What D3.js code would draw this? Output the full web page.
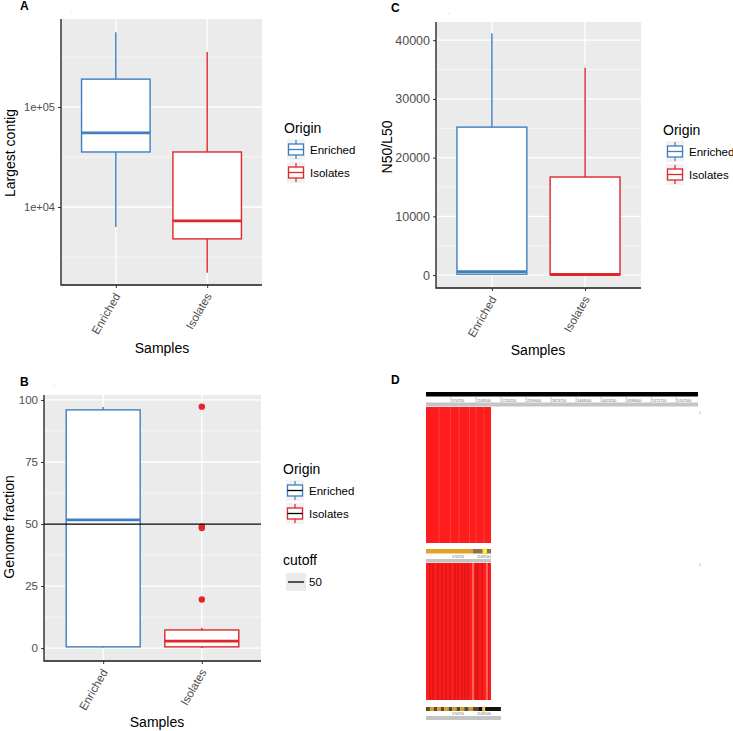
<!DOCTYPE html>
<meta charset="utf-8">
<title>Assembly comparison</title>
<style>
body { margin: 0; background: #fff; font-family: "Liberation Sans", Arial, sans-serif; }
.tick text { fill: #4d4d4d; }
.tick line { stroke: #333; }
</style>
<body>
<script src="https://d3js.org/d3.v7.min.js"></script>
<script>

// categories and colours
var samples = ["Enriched", "Isolates"];
var sampleColors = ["#3f7fbf", "#e0262a"];

// box stats: [lower whisker, Q1, median, Q3, upper whisker]
var contigEnriched = [6300, 35500, 55000, 190000, 560000];
var contigIsolates = [2200, 4800, 7250, 35500, 355000];
var contigTicks = [1e4, 1e5];
var contigMinor = [Math.pow(10, 3.5), Math.pow(10, 4.5), Math.pow(10, 5.5)];

var n50Enriched = [0, 150, 600, 25200, 41200];
var n50Isolates = [0, 20, 100, 16700, 35300];
var n50Ticks = [0, 10000, 20000, 30000, 40000];
var n50Minor = [5000, 15000, 25000, 35000];

var fractionEnriched = [0.2, 0.5, 51.7, 96, 97.2];
var fractionIsolates = [0, 0.5, 2.8, 7.3, 8.2];
var fractionOutliers = [97.3, 48.9, 48.4, 19.6];
var fractionTicks = [0, 25, 50, 75, 100];
var fractionMinor = [12.5, 37.5, 62.5, 87.5];
var cutoff = 50;

// panel D: genome alignment tracks (positions in kb)
var genomeLength = 6250;
var refTicks = [575, 1150, 1725, 2300, 2875, 3450, 4025, 4600, 5175, 5750];
var refTickLabels = ["574750", "1149500", "1724250", "2299000", "2873750", "3448500", "4023250", "4598000", "5172750", "5747500"];
var alignedEnd = 1494;
var lightLines1 = [300, 560, 760, 1000, 1150, 1330];
var darkLines2 = [92, 161, 276, 368, 460, 551, 666, 735, 827, 896, 965, 1150, 1195, 1287, 1425];
var whiteLines2 = [1080, 1402];
var midTicks = [575, 1150];
var bottomBounds = [0, 90, 180, 260, 340, 420, 520, 600, 700, 790, 880, 980, 1080, 1200, 1720];
var bottomTicks = [575, 1150];

var svg = d3.select("body").append("svg")
    .attr("width", 733)
    .attr("height", 731);

function drawBoxPanel(p) {
    var g = svg.append("g");
    var x = d3.scalePoint().domain(samples).range([p.x0, p.x1]).padding(0.6);
    var y = p.y;

    g.append("rect")
        .attr("x", p.x0).attr("y", p.y0)
        .attr("width", p.x1 - p.x0).attr("height", p.y1 - p.y0)
        .attr("fill", "#ebebeb");

    g.selectAll(".minor").data(p.minor).enter().append("line")
        .attr("x1", p.x0).attr("x2", p.x1)
        .attr("y1", function(d) { return y(d); })
        .attr("y2", function(d) { return y(d); })
        .attr("stroke", "#fff").attr("stroke-width", 0.6);
    g.selectAll(".major").data(p.ticks).enter().append("line")
        .attr("x1", p.x0).attr("x2", p.x1)
        .attr("y1", function(d) { return y(d); })
        .attr("y2", function(d) { return y(d); })
        .attr("stroke", "#fff").attr("stroke-width", 1.3);
    g.selectAll(".vgrid").data(samples).enter().append("line")
        .attr("x1", function(d) { return x(d); })
        .attr("x2", function(d) { return x(d); })
        .attr("y1", p.y0).attr("y2", p.y1)
        .attr("stroke", "#fff").attr("stroke-width", 1.3);

    var bw = x.step() * 0.75;
    p.stats.forEach(function(s, i) {
        var cx = x(samples[i]), c = sampleColors[i];
        g.append("line").attr("x1", cx).attr("x2", cx)
            .attr("y1", y(s[4])).attr("y2", y(s[3]))
            .attr("stroke", c).attr("stroke-width", 1.4);
        g.append("line").attr("x1", cx).attr("x2", cx)
            .attr("y1", y(s[1])).attr("y2", y(s[0]))
            .attr("stroke", c).attr("stroke-width", 1.4);
        g.append("rect")
            .attr("x", cx - bw / 2).attr("width", bw)
            .attr("y", y(s[3])).attr("height", y(s[1]) - y(s[3]))
            .attr("fill", "#fff").attr("stroke", c).attr("stroke-width", 1.4);
        g.append("line").attr("x1", cx - bw / 2).attr("x2", cx + bw / 2)
            .attr("y1", y(s[2])).attr("y2", y(s[2]))
            .attr("stroke", c).attr("stroke-width", 2.8);
    });

    if (p.outliers) {
        g.selectAll(".out").data(p.outliers).enter().append("circle")
            .attr("cx", x(samples[1]))
            .attr("cy", function(d) { return y(d); })
            .attr("r", 3.2)
            .attr("fill", sampleColors[1]);
    }
    if (p.hline != null) {
        g.append("line").attr("x1", p.x0).attr("x2", p.x1)
            .attr("y1", y(p.hline)).attr("y2", y(p.hline))
            .attr("stroke", "#000").attr("stroke-width", 1.3);
    }

    // axes
    var ya = g.append("g")
        .attr("transform", "translate(" + p.x0 + ",0)")
        .call(d3.axisLeft(y).tickValues(p.ticks).tickSize(3).tickPadding(3).tickFormat(p.format));
    ya.select(".domain").remove();
    ya.selectAll("text").style("font-size", p.tickSize + "px").style("font-family", "Liberation Sans, Arial, sans-serif");

    var xa = g.append("g")
        .attr("transform", "translate(0," + p.y1 + ")")
        .call(d3.axisBottom(x).tickSize(3));
    xa.select(".domain").remove();
    xa.selectAll("text")
        .attr("x", 0).attr("y", 0).attr("dy", "0.35em")
        .attr("text-anchor", "end")
        .attr("transform", "translate(1,9) rotate(-60)")
        .style("font-size", "11.5px").style("font-family", "Liberation Sans, Arial, sans-serif");

    g.append("path")
        .attr("d", "M" + p.x0 + "," + p.y0 + "V" + p.y1 + "H" + p.x1)
        .attr("fill", "none").attr("stroke", "#1a1a1a").attr("stroke-width", 1.3);

    // titles
    g.append("text")
        .attr("transform", "translate(" + p.ytx + "," + p.yty + ") rotate(-90)")
        .attr("text-anchor", "middle").attr("dy", "0.35em")
        .style("font-size", "14px").text(p.ytitle);
    g.append("text")
        .attr("x", p.xtx).attr("y", p.xty)
        .attr("text-anchor", "middle").attr("dy", "0.35em")
        .style("font-size", "14px").text("Samples");
    g.append("text")
        .attr("x", p.lx).attr("y", p.ly)
        .style("font-size", "12px").style("font-weight", "bold").text(p.label);
    g.append("text")
        .attr("x", p.dotx).attr("y", p.doty)
        .style("font-size", "6px").attr("fill", "#777").text(".");

    // legend
    var lg = g.append("g").attr("transform", "translate(" + p.legx + "," + p.legy + ")");
    lg.append("text").attr("x", -3).attr("y", 0).attr("dy", "0.35em")
        .style("font-size", "14px").text("Origin");
    samples.forEach(function(s, i) {
        var ky = 11 + i * 23;
        var c = sampleColors[i];
        lg.append("rect").attr("x", 0).attr("y", ky).attr("width", 18).attr("height", 21)
            .attr("fill", "#f2f2f2");
        lg.append("line").attr("x1", 9).attr("x2", 9).attr("y1", ky + 1).attr("y2", ky + 20)
            .attr("stroke", c).attr("stroke-width", 1.2);
        lg.append("rect").attr("x", 1.5).attr("y", ky + 5).attr("width", 15).attr("height", 11)
            .attr("fill", "#fff").attr("stroke", c).attr("stroke-width", 1.3);
        lg.append("line").attr("x1", 1.5).attr("x2", 16.5).attr("y1", ky + 10.5).attr("y2", ky + 10.5)
            .attr("stroke", p.hline != null ? "#000" : c).attr("stroke-width", 1.3);
        lg.append("text").attr("x", 23).attr("y", ky + 10.5).attr("dy", "0.35em")
            .style("font-size", "11.5px").text(s);
    });
    if (p.hline != null) {
        lg.append("text").attr("x", -3).attr("y", 91).attr("dy", "0.35em")
            .style("font-size", "14px").text("cutoff");
        lg.append("rect").attr("x", 0).attr("y", 104).attr("width", 20).attr("height", 18)
            .attr("fill", "#ebebeb");
        lg.append("line").attr("x1", 2).attr("x2", 18).attr("y1", 113).attr("y2", 113)
            .attr("stroke", "#000").attr("stroke-width", 1.3);
        lg.append("text").attr("x", 23).attr("y", 113).attr("dy", "0.35em")
            .style("font-size", "11.5px").text(String(cutoff));
    }
}

// Panel A
drawBoxPanel({
    x0: 61, x1: 262, y0: 19, y1: 285,
    y: d3.scaleLog().domain([Math.pow(10, 3.22), Math.pow(10, 5.88)]).range([285, 19]),
    ticks: contigTicks, minor: contigMinor,
    format: function(d) { return "1e+0" + Math.round(Math.log10(d)); },
    tickSize: 11,
    stats: [contigEnriched, contigIsolates],
    ytitle: "Largest contig", ytx: 10, yty: 153,
    xtx: 162, xty: 348,
    label: "A", lx: 20, ly: 10, dotx: 71, doty: 12,
    legx: 287, legy: 128
});

// Panel C
drawBoxPanel({
    x0: 436, x1: 641, y0: 22, y1: 288,
    y: d3.scaleLinear().domain([-2200, 43100]).range([288, 22]),
    ticks: n50Ticks, minor: n50Minor,
    format: d3.format("d"),
    tickSize: 12.5,
    stats: [n50Enriched, n50Isolates],
    ytitle: "N50/L50", ytx: 387, yty: 147,
    xtx: 538, xty: 350,
    label: "C", lx: 391, ly: 12, dotx: 448, doty: 14,
    legx: 666, legy: 130
});

// Panel B
drawBoxPanel({
    x0: 44, x1: 261, y0: 395, y1: 661,
    y: d3.scaleLinear().domain([-5.2, 102]).range([661, 395]),
    ticks: fractionTicks, minor: fractionMinor,
    format: d3.format("d"),
    tickSize: 11.5,
    stats: [fractionEnriched, fractionIsolates],
    outliers: fractionOutliers,
    hline: cutoff,
    ytitle: "Genome fraction", ytx: 9, yty: 527,
    xtx: 157, xty: 722,
    label: "B", lx: 20, ly: 386, dotx: 53, doty: 386,
    legx: 286, legy: 469
});

// Panel D: alignment view
var gx = d3.scaleLinear().domain([0, genomeLength]).range([426, 698]);
var gd = svg.append("g");
gd.append("text").attr("x", 391).attr("y", 384)
    .style("font-size", "12px").style("font-weight", "bold").text("D");

gd.append("rect").attr("x", gx(0)).attr("y", 392).attr("width", gx(genomeLength) - gx(0)).attr("height", 4.5).attr("fill", "#000");
gd.append("rect").attr("x", gx(0)).attr("y", 402.5).attr("width", gx(genomeLength) - gx(0)).attr("height", 4).attr("fill", "#c4c4c4");
gd.selectAll(".rt").data(refTicks).enter().append("line")
    .attr("x1", function(d) { return gx(d); }).attr("x2", function(d) { return gx(d); })
    .attr("y1", 396.5).attr("y2", 402.5).attr("stroke", "#888").attr("stroke-width", 0.5);
gd.selectAll(".rtl").data(refTicks).enter().append("text")
    .attr("x", function(d) { return gx(d) + 1; }).attr("y", 401.5)
    .style("font-size", "3.6px").attr("fill", "#666")
    .text(function(d, i) { return refTickLabels[i]; });
gd.append("text").attr("x", 699).attr("y", 414).style("font-size", "4px").attr("fill", "#999").text("1");

// first alignment block
gd.append("rect").attr("x", gx(0)).attr("y", 407).attr("width", gx(alignedEnd) - gx(0)).attr("height", 136).attr("fill", "#ff1c1c");
gd.selectAll(".l1").data(lightLines1).enter().append("line")
    .attr("x1", function(d) { return gx(d); }).attr("x2", function(d) { return gx(d); })
    .attr("y1", 407).attr("y2", 543).attr("stroke", "#ff5a5a").attr("stroke-width", 0.6);

// middle contig track
gd.append("rect").attr("x", gx(0)).attr("y", 549).attr("width", gx(1080) - gx(0)).attr("height", 4.5).attr("fill", "#e3a12a");
gd.append("rect").attr("x", gx(1080)).attr("y", 549).attr("width", gx(alignedEnd) - gx(1080)).attr("height", 4.5).attr("fill", "#8d7448");
gd.append("rect").attr("x", gx(1300)).attr("y", 548.5).attr("width", gx(1400) - gx(1300)).attr("height", 5).attr("fill", "#ffee33");
gd.selectAll(".mtl").data(midTicks).enter().append("text")
    .attr("x", function(d) { return gx(d) + 1; }).attr("y", 558)
    .style("font-size", "3.6px").attr("fill", "#666")
    .text(function(d, i) { return refTickLabels[i]; });
gd.append("rect").attr("x", gx(0)).attr("y", 559).attr("width", gx(alignedEnd) - gx(0)).attr("height", 3.5).attr("fill", "#c4c4c4");
gd.append("text").attr("x", 699).attr("y", 566).style("font-size", "4px").attr("fill", "#999").text("1");

// second alignment block
gd.append("rect").attr("x", gx(0)).attr("y", 563).attr("width", gx(alignedEnd) - gx(0)).attr("height", 137).attr("fill", "#ff1c1c");
gd.selectAll(".l2").data(darkLines2).enter().append("line")
    .attr("x1", function(d) { return gx(d); }).attr("x2", function(d) { return gx(d); })
    .attr("y1", 563).attr("y2", 700).attr("stroke", "#b01010").attr("stroke-width", 0.7);
gd.selectAll(".w2").data(whiteLines2).enter().append("line")
    .attr("x1", function(d) { return gx(d); }).attr("x2", function(d) { return gx(d); })
    .attr("y1", 563).attr("y2", 700).attr("stroke", "#ffd0d0").attr("stroke-width", 0.8);

// bottom contig track
gd.selectAll(".bt").data(bottomBounds.slice(0, -1)).enter().append("rect")
    .attr("x", function(d) { return gx(d); })
    .attr("width", function(d, i) { return gx(bottomBounds[i + 1]) - gx(d); })
    .attr("y", 707).attr("height", 4)
    .attr("fill", function(d, i) { return i === bottomBounds.length - 2 ? "#111" : (i % 2 ? "#d99a2a" : "#5a4a2a"); });
gd.append("rect").attr("x", gx(1290)).attr("y", 706.5).attr("width", gx(1360) - gx(1290)).attr("height", 5).attr("fill", "#e8c84a");
gd.selectAll(".btl").data(bottomTicks).enter().append("text")
    .attr("x", function(d) { return gx(d) + 1; }).attr("y", 715)
    .style("font-size", "3.6px").attr("fill", "#666")
    .text(function(d, i) { return refTickLabels[i]; });
gd.append("rect").attr("x", gx(0)).attr("y", 716).attr("width", gx(1720) - gx(0)).attr("height", 4).attr("fill", "#c4c4c4");

</script>
</body>
